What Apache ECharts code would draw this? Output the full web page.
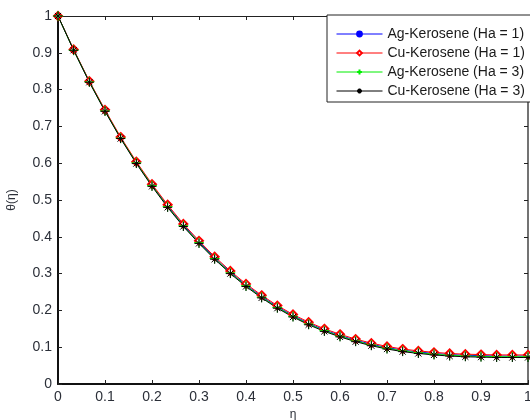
<!DOCTYPE html>
<html>
<head>
<meta charset="utf-8">
<script src="https://cdn.jsdelivr.net/npm/echarts@6/dist/echarts.min.js"></script>
<style>
  html, body { margin: 0; padding: 0; background: #fff; }
  #chart { width: 530px; height: 420px; }
</style>
</head>
<body>
<div id="chart"></div>
<script>
// Similarity variable η
const eta = [0, 0.0333, 0.0667, 0.1, 0.1333, 0.1667, 0.2, 0.2333, 0.2667, 0.3,
  0.3333, 0.3667, 0.4, 0.4333, 0.4667, 0.5, 0.5333, 0.5667, 0.6, 0.6333,
  0.6667, 0.7, 0.7333, 0.7667, 0.8, 0.8333, 0.8667, 0.9, 0.9333, 0.9667, 1];

// Temperature profiles θ(η)
const agHa1 = [1.000, 0.908, 0.822, 0.743, 0.669, 0.602, 0.540, 0.484, 0.432, 0.386,
  0.343, 0.304, 0.269, 0.238, 0.210, 0.186, 0.165, 0.147, 0.132, 0.119,
  0.108, 0.099, 0.092, 0.087, 0.083, 0.080, 0.078, 0.077, 0.076, 0.076, 0.076];
const cuHa1 = [1.000, 0.909, 0.823, 0.745, 0.671, 0.604, 0.543, 0.487, 0.435, 0.389,
  0.346, 0.307, 0.272, 0.241, 0.213, 0.189, 0.168, 0.150, 0.135, 0.122,
  0.111, 0.102, 0.095, 0.090, 0.086, 0.083, 0.081, 0.080, 0.079, 0.079, 0.079];
const agHa3 = [1.000, 0.907, 0.821, 0.742, 0.668, 0.601, 0.539, 0.482, 0.430, 0.384,
  0.341, 0.302, 0.267, 0.236, 0.208, 0.184, 0.163, 0.145, 0.130, 0.117,
  0.106, 0.097, 0.090, 0.085, 0.081, 0.078, 0.076, 0.075, 0.074, 0.074, 0.074];
const cuHa3 = [1.000, 0.907, 0.820, 0.741, 0.667, 0.599, 0.537, 0.480, 0.428, 0.382,
  0.339, 0.300, 0.265, 0.234, 0.206, 0.182, 0.161, 0.143, 0.128, 0.115,
  0.104, 0.095, 0.088, 0.083, 0.079, 0.076, 0.074, 0.073, 0.072, 0.072, 0.072];

const seriesNames = ['Ag-Kerosene (Ha = 1)', 'Cu-Kerosene (Ha = 1)',
  'Ag-Kerosene (Ha = 3)', 'Cu-Kerosene (Ha = 3)'];

const pair = ys => eta.map((x, i) => [x, ys[i]]);

const FONT = '"Liberation Sans", Arial, sans-serif';
const LABEL_COLOR = '#2b2f38';

const plusPath = 'path://M5,0L5,10M0,5L10,5';
const starPath = 'path://M5,0L5,10M0,5L10,5M1.6,1.6L8.4,8.4M8.4,1.6L1.6,8.4';

function lineSeries(name, data, color, symbol, size) {
  return {
    name: name,
    type: 'line',
    data: pair(data),
    symbol: symbol,
    symbolSize: size,
    showAllSymbol: true,
    lineStyle: { color: color, width: 1 },
    itemStyle: { color: color, borderColor: color, borderWidth: 1 },
    emphasis: { disabled: true },
    z: 3
  };
}

const chart = echarts.init(document.getElementById('chart'), null, { renderer: 'canvas' });

const tickStyle = { show: true, inside: true, length: 4, lineStyle: { color: '#222', width: 1 } };

chart.setOption({
  animation: false,
  backgroundColor: '#fff',
  textStyle: { fontFamily: FONT },
  grid: { left: 58, right: 2, top: 16, bottom: 36, containLabel: false, outerBoundsMode: 'none' },
  legend: {
    orient: 'vertical',
    left: 327,
    top: 15,
    data: seriesNames,
    backgroundColor: '#fff',
    borderColor: '#222',
    borderWidth: 1,
    borderRadius: 0,
    padding: [12, 8, 4, 9],
    itemGap: 5,
    itemWidth: 46,
    itemHeight: 6,
    lineStyle: { width: 1 },
    textStyle: { fontSize: 14, color: '#1a1a1a', fontFamily: FONT }
  },
  xAxis: [{
    type: 'value',
    min: 0, max: 1, interval: 0.1,
    name: 'η',
    nameLocation: 'middle',
    nameGap: 22,
    nameTextStyle: { fontSize: 12, color: LABEL_COLOR, fontFamily: FONT },
    axisLine: { show: true, onZero: false, lineStyle: { color: '#111', width: 2 } },
    axisTick: tickStyle,
    axisLabel: { fontSize: 14, color: LABEL_COLOR, margin: 6, fontFamily: FONT },
    splitLine: { show: false }
  }, {
    type: 'value',
    position: 'top',
    min: 0, max: 1, interval: 0.1,
    axisLine: { show: true, onZero: false, lineStyle: { color: '#222', width: 1 } },
    axisTick: tickStyle,
    axisLabel: { show: false },
    splitLine: { show: false }
  }],
  yAxis: [{
    type: 'value',
    min: 0, max: 1, interval: 0.1,
    name: 'θ(η)',
    nameLocation: 'middle',
    nameGap: 40,
    nameRotate: 90,
    nameTextStyle: { fontSize: 12, color: LABEL_COLOR, fontFamily: FONT },
    axisLine: { show: true, onZero: false, lineStyle: { color: '#111', width: 2 } },
    axisTick: tickStyle,
    axisLabel: { fontSize: 14, color: LABEL_COLOR, margin: 6, fontFamily: FONT },
    splitLine: { show: false }
  }, {
    type: 'value',
    position: 'right',
    min: 0, max: 1, interval: 0.1,
    axisLine: { show: true, onZero: false, lineStyle: { color: '#444', width: 1.5 } },
    axisTick: tickStyle,
    axisLabel: { show: false },
    splitLine: { show: false }
  }],
  series: [
    lineSeries(seriesNames[0], agHa1, '#0000ff', 'circle', 5),
    lineSeries(seriesNames[1], cuHa1, '#ff0000', 'emptyDiamond', 8),
    lineSeries(seriesNames[2], agHa3, '#00ee00', plusPath, 10),
    lineSeries(seriesNames[3], cuHa3, '#000000', starPath, 9)
  ]
});
</script>
</body>
</html>
